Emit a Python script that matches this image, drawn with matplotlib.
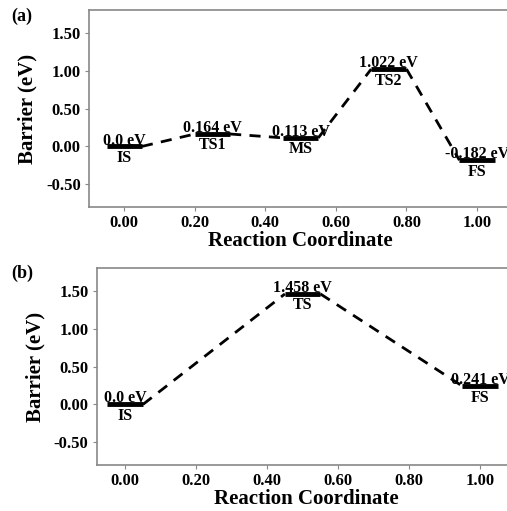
import matplotlib
matplotlib.use("Agg")
import matplotlib.pyplot as plt

plt.rcParams["font.family"] = ["Liberation Serif", "DejaVu Serif"]
plt.rcParams["font.weight"] = "bold"

# panel (a)
a_names = ["IS", "TS1", "MS", "TS2", "FS"]
a_x = [0.0, 0.25, 0.5, 0.75, 1.0]
a_e = [0.0, 0.164, 0.113, 1.022, -0.182]
a_lbl = ["0.0 eV", "0.164 eV", "0.113 eV", "1.022 eV", "-0.182 eV"]

# panel (b)
b_names = ["IS", "TS", "FS"]
b_x = [0.0, 0.5, 1.0]
b_e = [0.0, 1.458, 0.241]
b_lbl = ["0.0 eV", "1.458 eV", "0.241 eV"]

xticks = [0.0, 0.2, 0.4, 0.6, 0.8, 1.0]
yticks = [-0.5, 0.0, 0.5, 1.0, 1.5]

fig = plt.figure(figsize=(5.07, 5.11), dpi=100)
ax1 = fig.add_axes([0.1755, 0.595, 0.835, 0.385])
ax2 = fig.add_axes([0.191, 0.090, 0.826, 0.3855])

hw = 0.05


def draw(ax, xs, es, lbls, names, xmin):
    for i in range(len(xs)):
        ax.plot([xs[i] - hw, xs[i] + hw], [es[i], es[i]], color="black",
                lw=3.5, solid_capstyle="butt", zorder=3)
        ax.annotate(lbls[i], (xs[i], es[i]), xytext=(0, -1.5),
                    textcoords="offset points", ha="center", va="bottom",
                    fontsize=11.5, fontweight="bold")
        ax.annotate(names[i], (xs[i], es[i]), xytext=(0, -2.5),
                    textcoords="offset points", ha="center", va="top",
                    fontsize=11.5, fontweight="bold")
    for i in range(len(xs) - 1):
        ax.plot([xs[i] + hw, xs[i + 1] - hw], [es[i], es[i + 1]],
                color="black", lw=2, ls=(0, (4, 3)), zorder=2)
    ax.set_xlim(xmin, 1.1)
    ax.set_ylim(-0.8, 1.8)
    ax.set_xticks(xticks)
    ax.set_yticks(yticks)
    ax.set_xticklabels(["%.2f" % v for v in xticks], fontsize=12, fontweight="bold")
    ax.set_yticklabels(["%.2f" % v for v in yticks], fontsize=12, fontweight="bold")
    ax.tick_params(direction="out", length=3, color="#888888", pad=3)
    for s in ax.spines.values():
        s.set_color("#888888")
        s.set_linewidth(1.2)
    ax.set_xlabel("Reaction Coordinate", fontsize=15, fontweight="bold", labelpad=0)
    ax.set_ylabel("Barrier (eV)", fontsize=15, fontweight="bold", labelpad=6)


draw(ax1, a_x, a_e, a_lbl, a_names, -0.1)
draw(ax2, b_x, b_e, b_lbl, b_names, -0.08)

fig.text(0.022, 0.968, "(a)", fontsize=13, fontweight="bold", va="center")
fig.text(0.022, 0.466, "(b)", fontsize=13, fontweight="bold", va="center")

fig.savefig("out.png", dpi=100)
